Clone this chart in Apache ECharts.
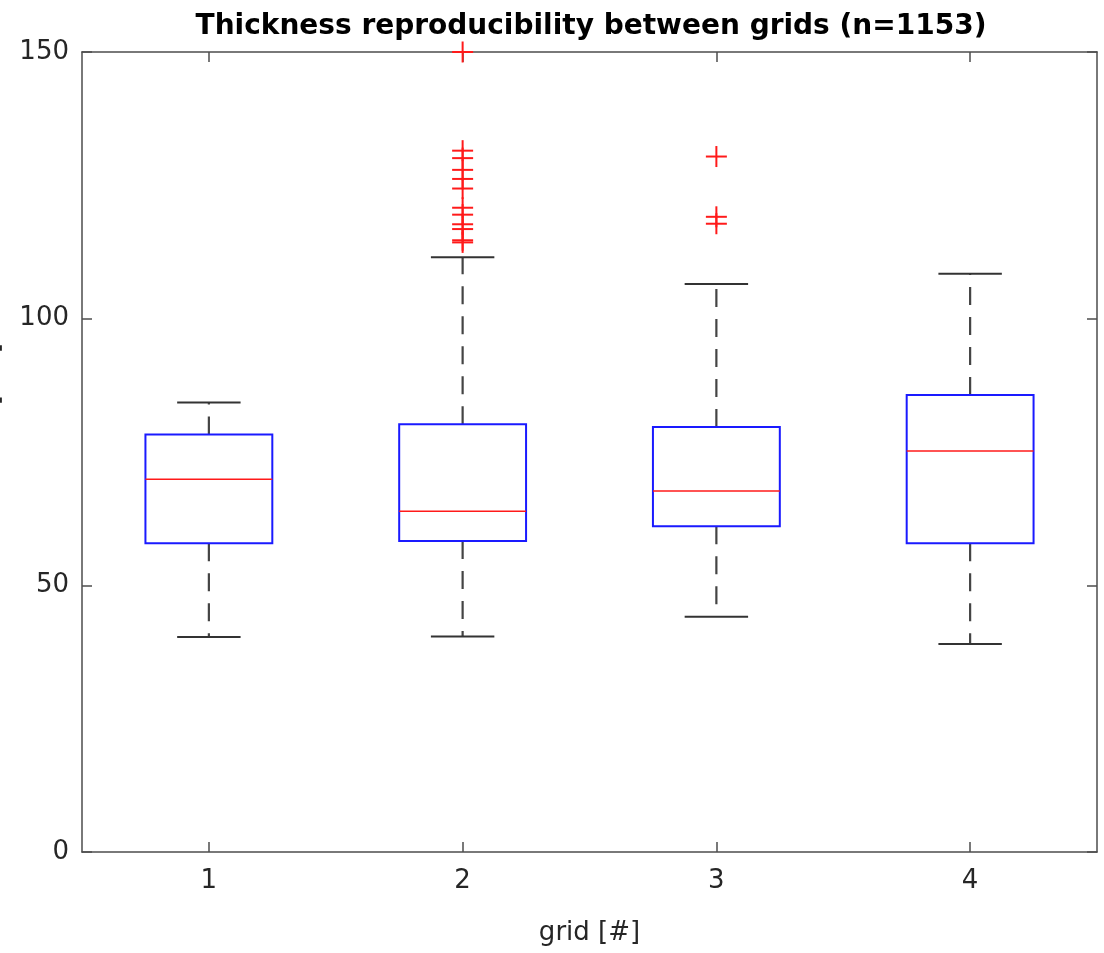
<!DOCTYPE html>
<html>
<head>
<meta charset="utf-8">
<script src="https://cdn.jsdelivr.net/npm/echarts@6/dist/echarts.min.js"></script>
<style>
  html, body { margin: 0; padding: 0; background: #fff; }
  #main { width: 1104px; height: 953px; }
</style>
</head>
<body>
<div id="main"></div>
<script>
// box statistics per grid
const categories = ['1', '2', '3', '4'];
const lowerWhisker = [40.3, 40.4, 44.1, 39.0];
const q1 = [57.9, 58.3, 61.1, 57.9];
const median = [69.9, 63.9, 67.7, 75.2];
const q3 = [78.3, 80.2, 79.7, 85.7];
const upperWhisker = [84.3, 111.5, 106.5, 108.4];

// outliers of grid 2 and grid 3
const outliers2 = [150, 131.5, 130.1, 127.9, 126.2, 124.4, 120.8, 119.5, 117.7, 116.8, 114.7, 114.3];
const outliers3 = [130.4, 119.1, 117.8];

const yTicks = [0, 50, 100, 150];

const FONT = '"DejaVu Sans", Arial, sans-serif';
const FRAME = '#4d4d4d';
const TEXT = '#262626';

const boxData = categories.map((c, i) => [i, lowerWhisker[i], q1[i], median[i], q3[i], upperWhisker[i]]);
const outlierData = []
  .concat(outliers2.map(v => [1, v]))
  .concat(outliers3.map(v => [2, v]));

const chart = echarts.init(document.getElementById('main'));

// MATLAB-like frame: lines on all four sides, ticks pointing inwards
const axisCommon = {
  axisLine: { show: true, onZero: false, lineStyle: { color: FRAME, width: 1.5 } },
  axisTick: { show: true, inside: true, length: 10, lineStyle: { color: FRAME, width: 1.5 } },
  splitLine: { show: false }
};
const catTick = Object.assign({}, axisCommon.axisTick, { alignWithLabel: true, interval: 0 });

chart.setOption({
  animation: false,
  backgroundColor: '#fff',
  grid: { left: 82, right: 7, top: 52, bottom: 101 },
  graphic: [
    {
      type: 'text', x: 591, y: 27,
      style: {
        text: 'Thickness reproducibility between grids (n=1153)',
        font: 'bold 28px ' + FONT, fill: '#000',
        align: 'center', verticalAlign: 'middle'
      }
    },
    {
      // y-axis title, mostly cut off by the left edge
      type: 'text', x: 4, y: 343, rotation: Math.PI / 2,
      style: {
        text: 'Ice thickness [nm]',
        font: '26px ' + FONT, fill: TEXT,
        align: 'right', verticalAlign: 'bottom'
      }
    }
  ],
  xAxis: [
    Object.assign({}, axisCommon, {
      type: 'category', data: categories, position: 'bottom',
      axisTick: catTick,
      axisLabel: { fontFamily: FONT, fontSize: 26, color: TEXT, margin: 16, interval: 0 },
      name: 'grid [#]', nameLocation: 'middle', nameGap: 68,
      nameTextStyle: { fontFamily: FONT, fontSize: 26, color: TEXT }
    }),
    Object.assign({}, axisCommon, {
      type: 'category', data: categories, position: 'top',
      axisTick: catTick,
      axisLabel: { show: false, interval: 0 }
    })
  ],
  yAxis: [
    Object.assign({}, axisCommon, {
      type: 'value', min: yTicks[0], max: yTicks[yTicks.length - 1], interval: 50, position: 'left',
      axisLabel: { fontFamily: FONT, fontSize: 26, color: TEXT, margin: 13 }
    }),
    Object.assign({}, axisCommon, {
      type: 'value', min: yTicks[0], max: yTicks[yTicks.length - 1], interval: 50, position: 'right',
      axisLabel: { show: false }
    })
  ],
  series: [
    {
      type: 'custom',
      name: 'boxes',
      data: boxData,
      encode: { x: 0, y: [1, 2, 3, 4, 5] },
      renderItem: function (params, api) {
        const x = api.value(0);
        const bw = api.size([1, 0])[0];
        const boxHalf = bw * 0.25;
        const capHalf = bw * 0.125;
        const pLow = api.coord([x, api.value(1)]);
        const pQ1 = api.coord([x, api.value(2)]);
        const pMed = api.coord([x, api.value(3)]);
        const pQ3 = api.coord([x, api.value(4)]);
        const pHigh = api.coord([x, api.value(5)]);
        const cx = pMed[0];
        const whiskerStyle = { stroke: '#444', lineWidth: 2.2, lineDash: [18, 12] };
        const capStyle = { stroke: '#333', lineWidth: 2 };
        return {
          type: 'group',
          children: [
            { type: 'line', shape: { x1: cx, y1: pQ3[1], x2: cx, y2: pHigh[1] }, style: whiskerStyle },
            { type: 'line', shape: { x1: cx, y1: pQ1[1], x2: cx, y2: pLow[1] }, style: whiskerStyle },
            { type: 'line', shape: { x1: cx - capHalf, y1: pHigh[1], x2: cx + capHalf, y2: pHigh[1] }, style: capStyle },
            { type: 'line', shape: { x1: cx - capHalf, y1: pLow[1], x2: cx + capHalf, y2: pLow[1] }, style: capStyle },
            {
              type: 'rect',
              shape: { x: cx - boxHalf, y: pQ3[1], width: boxHalf * 2, height: pQ1[1] - pQ3[1] },
              style: { fill: 'none', stroke: '#1a1aff', lineWidth: 2 }
            },
            {
              type: 'line', shape: { x1: cx - boxHalf, y1: pMed[1], x2: cx + boxHalf, y2: pMed[1] },
              style: { stroke: '#ff1a1a', lineWidth: 1.5 }
            }
          ]
        };
      }
    },
    {
      type: 'custom',
      name: 'outliers',
      data: outlierData,
      clip: false,
      encode: { x: 0, y: 1 },
      renderItem: function (params, api) {
        const p = api.coord([api.value(0), api.value(1)]);
        const h = 10.5;
        const st = { stroke: '#ff1a1a', lineWidth: 2 };
        return {
          type: 'group',
          children: [
            { type: 'line', shape: { x1: p[0] - h, y1: p[1], x2: p[0] + h, y2: p[1] }, style: st },
            { type: 'line', shape: { x1: p[0], y1: p[1] - h, x2: p[0], y2: p[1] + h }, style: st }
          ]
        };
      }
    }
  ]
});
</script>
</body>
</html>
